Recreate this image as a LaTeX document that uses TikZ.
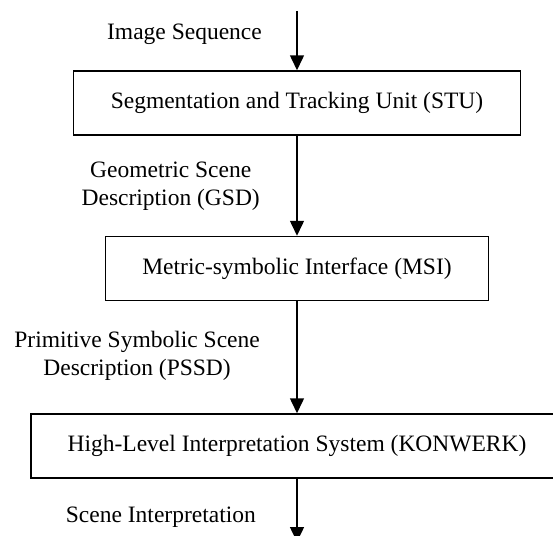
\documentclass[tikz,border=0pt]{standalone}
\usepackage{fontspec}
\setmainfont{Liberation Serif}
\usetikzlibrary{positioning}
\usetikzlibrary{arrows.meta}
\tikzset{
  stagebox/.style={draw, line width=1.5pt, inner sep=0pt, minimum height=64pt},
  flowarrow/.style={line width=1.5pt, -{Triangle[width=14pt,length=15pt]}},
  flowlabel/.style={inner sep=0pt, align=center}
}

\begin{document}
\begin{tikzpicture}[x=1pt, y=-1pt, font=\fontsize{23.5}{28}\selectfont]
\useasboundingbox (0,0) rectangle (553,535);
\clip (0,0) rectangle (553,535);

\node[stagebox, minimum width=447pt] (stu) at (297,103) {Segmentation and Tracking Unit (STU)};
\node[stagebox, minimum width=383pt, below=100pt of stu] (msi) {Metric-symbolic Interface (MSI)};
\node[stagebox, minimum width=532pt, below=112pt of msi] (konwerk) {High-Level Interpretation System (KONWERK)};

\coordinate (input) at (297,11);
\coordinate (output) at (297,542);

\draw[flowarrow] (input) -- (stu);
\draw[flowarrow] (stu) -- (msi);
\draw[flowarrow] (msi) -- (konwerk);
\draw[flowarrow] (konwerk) -- (output);

\node[flowlabel, anchor=base east] (seq) at (262,39.5) {Image Sequence};
\node[flowlabel, anchor=east] (gsd) at (260,186.5) {Geometric Scene\\Description (GSD)};
\node[flowlabel, anchor=east] (pssd) at (260,355.5) {Primitive Symbolic Scene\\Description (PSSD)};
\node[flowlabel, anchor=base east] (interp) at (256,522) {Scene Interpretation};
\end{tikzpicture}
\end{document}
